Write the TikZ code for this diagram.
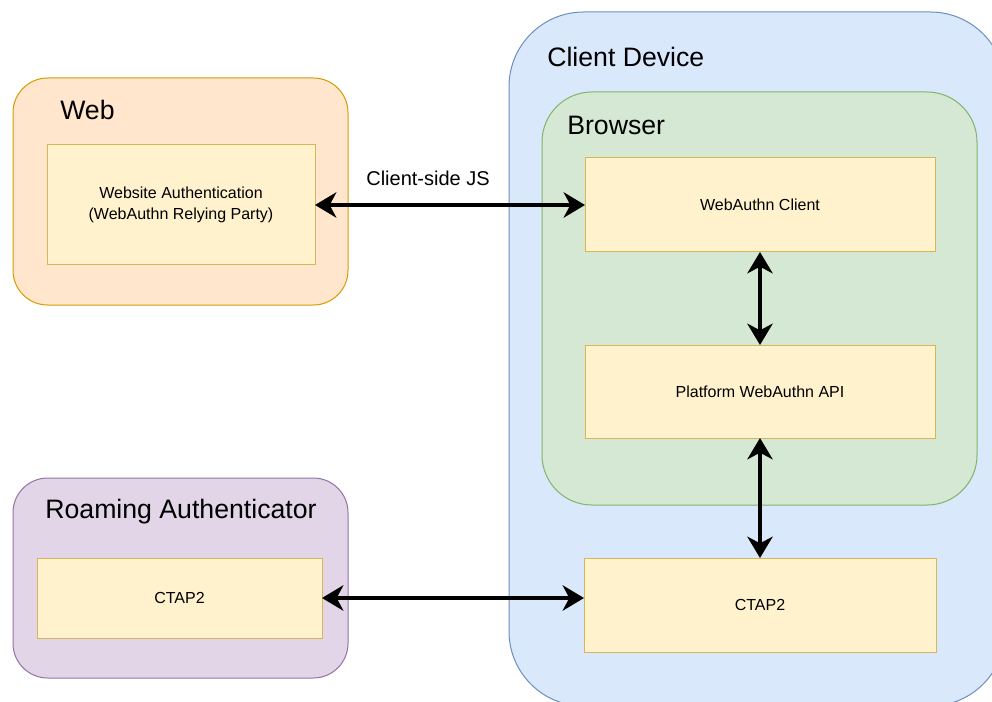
\documentclass[tikz,border=0pt]{standalone}
\usepackage{fontspec}
\setmainfont{Liberation Sans}
\usetikzlibrary{arrows.meta}
\definecolor{orfill}{HTML}{FFE6CC}\definecolor{ordraw}{HTML}{D79B00}
\definecolor{yefill}{HTML}{FFF2CC}\definecolor{yedraw}{HTML}{D6B656}
\definecolor{blfill}{HTML}{DAE8FC}\definecolor{bldraw}{HTML}{6C8EBF}
\definecolor{grfill}{HTML}{D5E8D4}\definecolor{grdraw}{HTML}{82B366}
\definecolor{pufill}{HTML}{E1D5E7}\definecolor{pudraw}{HTML}{9673A6}
\tikzset{
  container/.style={rectangle, line width=0.75pt, inner sep=0pt, outer sep=0pt},
  comp/.style={rectangle, fill=yefill, draw=yedraw, line width=0.75pt, inner sep=0pt, outer sep=0pt,
     align=center, font=\fontsize{12}{16}\selectfont},
  grouptitle/.style={inner sep=0pt, font=\fontsize{20}{24}\selectfont},
  link/.style={line width=3pt, {Stealth[length=16pt,width=19pt,inset=5pt]}-{Stealth[length=16pt,width=19pt,inset=5pt]}},
}
\begin{document}
\begin{tikzpicture}[x=0.75pt,y=-0.75pt]
\useasboundingbox (0,0) rectangle (992,702);
\clip (0,0) rectangle (992,702);
\fill[white] (0,0) rectangle (992,702);
% containers
\node[container, fill=blfill, draw=bldraw, rounded corners=56pt, minimum width=372pt, minimum height=520.5pt] (cd) at (757,359) {};
\node[container, fill=grfill, draw=grdraw, rounded corners=37.5pt, minimum width=326.25pt, minimum height=309.75pt] (browser) at (759.5,298.5) {};
\node[container, fill=orfill, draw=ordraw, rounded corners=26pt, minimum width=251.25pt, minimum height=170.25pt] (web) at (180.5,191.5) {};
\node[container, fill=pufill, draw=pudraw, rounded corners=26pt, minimum width=251.25pt, minimum height=150pt] (roam) at (180.5,578) {};
% titles
\node[grouptitle, anchor=west] (tweb) at (60,110) {Web};
\node[grouptitle, anchor=west] (tcd) at (547,57) {Client Device};
\node[grouptitle, anchor=west] (tbr) at (567,125) {Browser};
\node[grouptitle] (troam) at (181,512) {Roaming Authenticator};
% components
\node[comp, minimum width=201pt, minimum height=90pt] (wa) at (181,205) {Website Authentication\\(WebAuthn Relying Party)};
\node[comp, minimum width=262.5pt, minimum height=70.5pt] (wc) at (760,205) {WebAuthn Client};
\node[comp, minimum width=262.5pt, minimum height=69.75pt] (api) at (760,391.5) {Platform WebAuthn API};
\node[comp, minimum width=264pt, minimum height=70.5pt] (ctapr) at (760,605) {CTAP2};
\node[comp, minimum width=213.75pt, minimum height=60pt] (ctapl) at (179.5,598) {CTAP2};
% connectors
\draw[link] (wa.east) -- (wc.west);
\node[inner sep=0pt, font=\fontsize{15}{18}\selectfont] (js) at (428,178) {Client-side JS};
\draw[link] (wc.south) -- (api.north);
\draw[link] (api.south) -- (ctapr.north);
\draw[link] (ctapl.east) -- (ctapl.east -| ctapr.west);
\end{tikzpicture}
\end{document}
